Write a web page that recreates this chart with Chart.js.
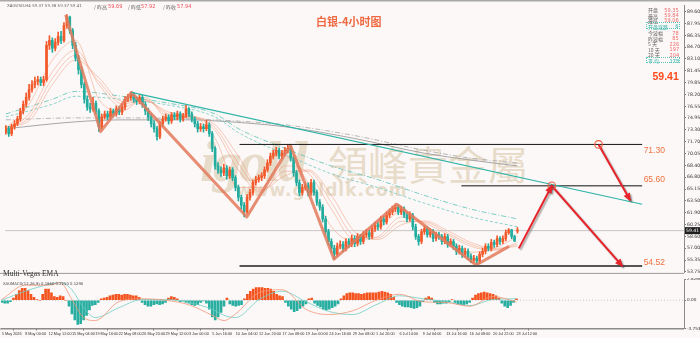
<!DOCTYPE html>
<html><head><meta charset="utf-8">
<script src="https://cdn.jsdelivr.net/npm/chart.js@4.4.1/dist/chart.umd.min.js"></script>
<style>
html,body{margin:0;padding:0;background:#fcf8f7;}
#wrap{position:relative;width:700px;height:338px;overflow:hidden;background:#fcf8f7;}
canvas{position:absolute;left:0;z-index:1;}
#c1{top:0;} #c2{top:278px;}
.t{position:absolute;white-space:nowrap;z-index:2;line-height:1;}
.s{transform:scale(0.5);transform-origin:0 0;}
.sr{transform:scale(0.5);transform-origin:100% 0;}
.wm{position:absolute;white-space:nowrap;z-index:0;line-height:1;color:rgba(214,196,164,0.55);}
</style></head><body>
<div id="wrap">
<div class="wm" style="left:200px;top:128px;font:italic bold 58px 'Liberation Serif',serif;letter-spacing:-3px;">igold</div>
<div class="wm" style="left:328px;top:134px;font:400 40px 'Noto Sans CJK TC',sans-serif;">領峰貴金屬</div>
<div class="wm" style="left:236px;top:180px;font:bold 17px 'DejaVu Sans',sans-serif;letter-spacing:1px;">www.goldlk.com</div>
<canvas id="c1" width="700" height="278"></canvas>
<canvas id="c2" width="700" height="60"></canvas>
<div id="overlay"></div>
</div>
<script>
// ---------------- data ----------------
const dateLabels = ['5 May 2026','8 May 00:00','12 May 12:00','15 May 04:00','19 May 16:00','22 May 08:00','26 May 20:00','29 May 12:00','3 Jun 00:00','5 Jun 16:00','10 Jun 04:00','12 Jun 20:00','17 Jun 08:00','19 Jun 00:00','24 Jun 16:00','29 Jun 08:00','1 Jul 20:00','6 Jul 14:00','9 Jul 04:00','13 Jul 16:00','16 Jul 08:00','20 Jul 22:00','23 Jul 12:00'];
const dateTickIdx = [0,8,16,24,32,40,48,56,64,72,80,88,96,104,112,120,128,136,144,152,160,168,176];
const priceTicks = [89.60,87.95,86.35,84.70,83.10,81.45,79.85,78.20,76.55,74.95,73.30,71.70,70.05,68.40,66.80,65.15,63.50,61.90,60.25,58.60,57.00,55.35,53.75];
const macdTicks = [2.8266,0,-3.7536];

const opens = [73.00,73.47,72.79,73.74,74.15,74.82,75.91,76.85,77.80,78.88,
79.56,79.97,80.24,79.83,80.24,84.97,85.65,84.57,85.38,86.19,
85.65,87.68,88.89,87.00,84.97,83.21,81.59,79.56,77.53,76.45,
76.18,76.99,75.91,73.74,75.09,75.50,75.09,75.91,75.50,76.18,
75.77,76.45,77.53,77.80,78.21,77.53,77.26,77.80,76.85,75.91,
75.09,74.15,73.47,72.39,74.15,74.82,75.09,74.55,75.37,75.09,
75.50,74.82,75.23,76.18,75.50,74.82,74.15,73.47,73.74,73.47,
74.01,72.79,70.76,68.33,67.79,67.38,68.06,66.98,67.79,66.71,
65.35,64.00,62.92,61.97,64.00,64.68,66.03,66.44,66.71,66.98,
67.79,68.74,69.68,70.09,70.49,69.68,70.09,70.49,70.76,69.41,
67.38,66.03,64.68,65.35,65.62,64.68,66.03,64.68,63.32,62.65,
61.02,59.26,57.91,56.96,56.15,57.24,57.51,56.96,57.91,57.51,
58.32,57.64,58.59,57.91,58.86,59.13,58.59,59.67,60.21,59.94,
61.02,60.62,61.56,61.97,62.38,62.65,61.97,62.38,61.56,61.02,
61.56,59.94,58.59,57.91,59.26,59.67,58.86,59.26,58.32,58.86,
58.59,57.91,58.59,57.51,57.91,57.24,56.56,56.96,56.15,56.56,
55.88,55.34,55.61,55.20,56.15,56.56,57.24,56.96,57.78,57.51,
58.32,57.91,58.32,59.13,59.53,58.59,59.35];
const closes = [73.47,72.79,73.74,74.15,74.82,75.91,76.85,77.80,78.88,79.56,
79.97,80.24,79.83,80.24,84.97,85.65,84.57,85.38,86.19,85.65,
87.68,88.89,87.00,84.97,83.21,81.59,79.56,77.53,76.45,76.18,
76.99,75.91,73.74,75.09,75.50,75.09,75.91,75.50,76.18,75.77,
76.45,77.53,77.80,78.21,77.53,77.26,77.80,76.85,75.91,75.09,
74.15,73.47,72.39,74.15,74.82,75.09,74.55,75.37,75.09,75.50,
74.82,75.23,76.18,75.50,74.82,74.15,73.47,73.74,73.47,74.01,
72.79,70.76,68.33,67.79,67.38,68.06,66.98,67.79,66.71,65.35,
64.00,62.92,61.97,64.00,64.68,66.03,66.44,66.71,66.98,67.79,
68.74,69.68,70.09,70.49,69.68,70.09,70.49,70.76,69.41,67.38,
66.03,64.68,65.35,65.62,64.68,66.03,64.68,63.32,62.65,61.02,
59.26,57.91,56.96,56.15,57.24,57.51,56.96,57.91,57.51,58.32,
57.64,58.59,57.91,58.86,59.13,58.59,59.67,60.21,59.94,61.02,
60.62,61.56,61.97,62.38,62.65,61.97,62.38,61.56,61.02,61.56,
59.94,58.59,57.91,59.26,59.67,58.86,59.26,58.32,58.86,58.59,
57.91,58.59,57.51,57.91,57.24,56.56,56.96,56.15,56.56,55.88,
55.34,55.61,55.20,56.15,56.56,57.24,56.96,57.78,57.51,58.32,
57.91,58.32,59.13,59.53,58.59,57.94,59.41];
const highs = [73.9,73.8,74.1,74.6,75.2,76.3,77.3,78.4,79.6,80.1,
80.6,80.7,80.6,80.7,85.5,86.3,86.0,85.9,86.8,86.9,
88.1,89.2,89.0,87.3,85.4,83.6,82.0,79.9,78.0,77.0,
77.8,77.3,76.2,75.5,75.9,75.9,76.3,76.2,76.6,76.5,
76.9,77.9,78.2,78.5,78.5,77.9,78.2,78.1,77.2,76.3,
75.5,74.6,73.8,74.5,75.2,75.5,75.4,75.7,75.7,75.9,
75.8,75.6,76.7,76.4,75.8,75.1,74.5,74.2,74.1,74.6,
74.3,73.1,71.0,68.8,68.2,68.6,68.4,68.2,68.1,67.0,
65.7,64.3,63.3,64.4,65.1,66.4,66.9,67.1,67.4,68.2,
69.2,70.1,70.5,70.9,70.8,70.5,70.9,71.2,71.1,69.7,
67.7,66.4,65.8,66.1,66.0,66.5,66.4,65.0,63.7,63.0,
61.4,59.6,58.3,57.4,57.7,58.0,57.9,58.3,58.3,58.8,
58.7,59.0,58.9,59.3,59.6,59.5,60.1,60.6,60.6,61.4,
61.4,62.0,62.4,62.8,63.1,63.0,62.8,62.7,61.9,62.0,
61.8,60.3,58.9,59.6,60.1,60.0,59.7,59.6,59.2,59.2,
58.9,59.0,58.9,58.3,58.2,57.6,57.4,57.3,57.0,56.9,
56.2,56.0,55.9,56.5,57.0,57.6,57.6,58.2,58.1,58.7,
58.6,58.7,59.5,59.69,59.6,58.8,59.84];
const lows = [72.7,72.4,72.5,73.4,73.9,74.5,75.5,76.5,77.4,78.5,
79.1,79.5,79.4,79.4,80.0,84.4,84.0,84.2,85.0,85.2,
85.4,87.3,86.6,84.5,82.8,81.0,79.1,77.0,76.0,75.7,
75.9,75.5,73.1,73.4,74.8,74.7,74.8,75.1,75.2,75.4,
75.4,76.1,77.2,77.4,77.1,76.8,76.9,76.4,75.4,74.6,
73.7,73.0,71.9,72.1,73.8,74.5,74.1,74.2,74.7,74.7,
74.4,74.5,75.0,75.1,74.4,73.7,73.0,73.1,73.0,73.2,
72.4,70.3,67.9,67.3,66.9,67.0,66.5,66.6,66.3,64.9,
63.5,62.4,61.3,61.7,63.6,64.3,65.7,66.1,66.3,66.6,
67.5,68.4,69.3,69.7,69.3,69.3,69.8,70.1,69.0,66.9,
65.6,64.2,64.3,65.0,64.2,64.3,64.3,62.9,62.2,60.6,
58.8,57.4,56.4,55.5,55.9,56.9,56.5,56.6,57.1,57.2,
57.2,57.3,57.5,57.6,58.5,58.2,58.3,59.3,59.5,59.6,
60.2,60.3,61.2,61.6,62.0,61.6,61.6,61.2,60.6,60.7,
59.5,58.2,57.4,57.6,58.9,58.5,58.5,57.9,58.0,58.2,
57.5,57.6,57.1,57.2,56.8,56.1,56.2,55.7,55.8,55.4,
55.0,55.0,54.7,54.9,55.8,56.2,56.6,56.6,57.1,57.2,
57.5,57.6,58.0,58.9,58.3,57.92,59.06];

const ribbonIdx = [0,8,16,24,32,40,48,56,64,72,80,88,96,104,112,120,128,136,144,152,160,168,176];
const emaFast = [73.47,76.85,82.94,85.65,77.53,75.91,77.80,74.82,75.09,72.12,65.35,65.35,69.68,66.03,59.94,57.91,59.67,61.97,59.94,58.32,56.42,56.96,58.59];
const emaMid  = [73.47,75.50,81.32,84.30,79.56,76.45,77.53,75.23,75.09,73.20,67.79,64.68,68.33,67.38,62.38,58.18,58.59,61.29,60.48,58.86,57.24,56.69,57.78];
const emaMid2 = [73.60,75.00,80.40,83.60,80.00,76.90,77.40,75.50,75.15,73.60,68.70,64.90,67.60,67.60,63.30,58.70,58.40,60.70,60.60,59.10,57.50,56.80,57.50];
const emaSlow = [73.74,74.55,79.56,82.94,80.51,77.26,77.26,75.77,75.23,74.01,69.68,65.08,66.98,67.79,64.27,59.26,58.18,60.21,60.75,59.40,57.78,56.96,57.24];
const vegasIdx = [0,16,24,40,56,72,80,96,112,128,144,160,176];
const ema144 = [75.50,77.53,78.61,77.94,76.99,75.50,73.47,70.76,68.33,66.44,64.27,62.38,61.02];
const ema169 = [75.09,76.85,77.94,77.53,76.72,75.09,72.93,69.95,67.25,65.35,63.19,61.29,59.94];
const longIdx = [0,24,40,64,72,96,120,144,160,176];
const ema576 = [73.47,74.42,74.69,74.69,74.55,73.74,72.12,70.09,69.14,68.33];
const ema676 = [74.69,74.96,74.96,74.82,74.69,74.01,72.52,70.49,69.41,68.74];

const macdHist = [-0.3,-0.4,-0.4,-0.2, 0.3,0.8,1.3,1.6,1.6,1.3,0.8,0.4, 0.1,0.0, 0.8,1.5,1.5,1.0, 0.5,0.4,0.6,0.5,
0.0,-0.8,-1.8,-2.6,-3.2,-3.1,-2.6,-2.0,-1.3,-0.7, -0.6,-0.3,0.2,0.3,
0.4,0.6,0.7,0.8,0.8,0.7,0.8,0.8,0.7,0.6, 0.6,0.4, -0.3,-0.6,-0.8,-0.8,-0.6, -0.5,-0.6,-0.5,-0.3,
0.3,0.5,0.4,0.2, -0.2,-0.1,-0.3,-0.4, -0.6,-0.7,-0.6,-0.3, -0.1,-0.4, -1.2,-2.2,-2.6,-2.2,-1.6, -0.8,0.3,
-0.5,-0.7,-0.8,-0.7,-0.6, 0.2,0.8,1.2,1.5,1.7,1.7,1.7,1.6,1.6,1.5,1.2, 0.8,0.6,0.5,
-0.3,-0.8,-1.2,-1.5,-1.4,-1.1,-0.8, -0.5,0.2, 0.3, -0.4,-0.7,-0.9,-1.2,-1.3,-1.2,-1.0,-0.8,-0.5,
0.2,0.6,0.9,1.0,1.0,0.9,0.9,0.8,0.9,1.0,1.0,1.0, 1.0,1.1,1.2,1.1,1.0,0.8, 0.4,
-0.3,-0.6,-0.8,-0.9,-0.9,-1.0,-1.1,-1.0,-0.8, -0.2,0.3,0.5,0.3, -0.3,-0.5,-0.5,-0.4,-0.4,-0.2, 0.1,
-0.3,-0.5,-0.6,-0.6,-0.5,-0.3, 0.3,0.7,0.9,1.0,1.1,1.0,0.9,0.8,0.6,0.3, -0.4,-0.8,-1.0,-0.7,-0.3, 0.2];
const macdIdx = [0,8,16,20,24,28,32,40,48,56,64,72,76,80,88,96,104,112,120,128,136,144,152,160,168,176];
const macdLine = [0.1,2.0,2.0,2.35,0.1,-2.3,-2.7,-0.2,0.2,0.0,-0.6,-2.0,-2.7,-1.8,1.0,1.4,-1.2,-1.9,-1.4,0.0,0.8,-0.2,-0.3,-0.8,0.5,-0.2];
const signalLine = [0.0,1.2,2.1,2.35,1.4,-1.0,-2.3,-1.0,0.1,0.1,-0.3,-1.2,-2.0,-2.3,0.1,1.2,-0.2,-1.5,-1.9,-0.6,0.6,0.2,-0.2,-0.7,0.1,0.2];

// analyst drawings (price / bar-index units)
const levelValues = [71.30, 65.60, 54.52];
const levelTexts = ['71.30','65.60','54.52'];
const levelStartIdx = [80.4, 156.7, 80.4];
const levelEndIdx = 218.9;
const zigzagIdx = [20.6, 32.6, 43.2, 82.9, 97.9, 112.9, 134.5, 161.8, 173.1];
const zigzagPrice = [89.17, 73.06, 78.48, 61.29, 71.17, 55.48, 63.05, 54.66, 57.24];
const trendIdx = [43.2, 218.9];
const trendPrice = [78.48, 63.05];
const arrow1Idx = [176.5, 187.8, 212.1];
const arrow1Price = [56.96, 65.60, 54.52];
const arrow2Idx = [203.9, 214.8];
const arrow2Price = [71.30, 63.59];

const infoLabels = ['开盘','最高','最低','开盘涨跌','今波幅','昨波幅','5 天','10 天','20 天','平 均'];
const infoValues = ['59.35','59.84','59.06','6','78','85','226','197','204','178'];
const lastPrice = closes[closes.length-1];

// ---------------- helpers ----------------
const X_MIN = -0.25, X_MAX = 233.3;
const UP = '#f2592b', DOWN = '#22ad9f';
const pts = (xs, ys) => xs.map((x,k)=>({x, y:ys[k]}));
function line(xs, ys, color, width, dash, order, extra){
  return Object.assign({type:'line', data:pts(xs,ys), borderColor:color, borderWidth:width, borderDash:dash||[],
    pointRadius:0, fill:false, order:order, cubicInterpolationMode:'monotone'}, extra||{});
}
const idx = closes.map((_,i)=>i);
const candleColors = idx.map(i => closes[i] >= opens[i] ? UP : DOWN);

const fxPlugin = {
  id:'fx',
  beforeDatasetDraw(chart, args){
    const ds = chart.data.datasets[args.index];
    if (ds.shadow){ const c=chart.ctx; c.save(); c.shadowColor='rgba(60,60,60,0.45)'; c.shadowOffsetX=1.5; c.shadowOffsetY=1.5; c.shadowBlur=1.5; }
  },
  afterDatasetDraw(chart, args){
    const ds = chart.data.datasets[args.index];
    if (ds.shadow) chart.ctx.restore();
  },
  afterDatasetsDraw(chart){
    const c = chart.ctx;
    chart.data.datasets.forEach((ds,di)=>{
      if(!ds.arrowAt) return;
      const meta = chart.getDatasetMeta(di);
      ds.arrowAt.forEach(j=>{
        const p = meta.data[j], q = meta.data[j-1];
        const a = Math.atan2(p.y-q.y, p.x-q.x);
        c.save(); c.translate(p.x,p.y); c.rotate(a);
        c.shadowColor='rgba(60,60,60,0.45)'; c.shadowOffsetX=1.5; c.shadowOffsetY=1.5; c.shadowBlur=1.5;
        c.beginPath(); c.moveTo(1,0); c.lineTo(-7,-3.6); c.lineTo(-7,3.6); c.closePath();
        c.fillStyle = ds.borderColor; c.fill(); c.restore();
      });
    });
  }
};

const mainDecor = {
  id:'mainDecor',
  afterDraw(chart){
    const c = chart.ctx, xs = chart.scales.x, ys = chart.scales.y, ca = chart.chartArea;
    c.save();
    c.fillStyle = '#a9a9a9'; c.fillRect(0,0,700,1.5);
    c.strokeStyle = '#9a9a9a'; c.lineWidth = 1;
    c.beginPath(); c.moveTo(0, ca.bottom+0.5); c.lineTo(ca.right, ca.bottom+0.5); c.stroke();
    c.font = '8.5px "Liberation Sans", Arial, sans-serif';
    c.fillStyle = '#f2703e'; c.textAlign='left'; c.textBaseline='middle';
    const dy = [5.8, -6.2, -3.6];
    levelValues.forEach((v,k)=>{
      c.fillText(levelTexts[k], xs.getPixelForValue(levelEndIdx)+1.5, ys.getPixelForValue(v)+dy[k]);
    });
    const py = ys.getPixelForValue(lastPrice);
    c.fillStyle = '#1e1e1e'; c.fillRect(ca.right+1, py-3.5, 15, 7);
    c.fillStyle = '#ffffff'; c.font = '4.6px "DejaVu Sans", sans-serif';
    c.fillText(lastPrice.toFixed(2), ca.right+2, py+0.3);
    c.restore();
  }
};

// ---------------- main chart ----------------
const ribbonColor = 'rgba(240,150,120,0.7)';
new Chart(document.getElementById('c1'), {
  type:'bar',
  data:{ datasets:[
    line(longIdx, ema576, '#9c9c9c', 0.9, [], 20),
    line(longIdx, ema676, '#a6a6a6', 0.8, [5,2,1,2], 20),
    line(vegasIdx, ema144, '#58c2b6', 0.8, [5,2,1,2], 19),
    line(vegasIdx, ema169, '#6dcac0', 0.8, [3,2], 19),
    line(ribbonIdx, emaSlow, ribbonColor, 0.7, [], 18),
    line(ribbonIdx, emaMid2, ribbonColor, 0.7, [], 18),
    line(ribbonIdx, emaMid, ribbonColor, 0.7, [], 18),
    line(ribbonIdx, emaFast, ribbonColor, 0.7, [], 18),
    line([X_MIN, X_MAX], [lastPrice, lastPrice], '#c4c0c0', 0.9, [], 17, {cubicInterpolationMode:'default'}),
    {type:'bar', data: idx.map(i=>({x:i, y:[lows[i], highs[i]]})), backgroundColor:candleColors, barThickness:1, grouped:false, order:12},
    {type:'bar', data: idx.map(i=>({x:i, y:[opens[i], closes[i]]})), backgroundColor:candleColors, barThickness:2, minBarLength:1, grouped:false, order:11},
    line(zigzagIdx, zigzagPrice, 'rgba(226,122,92,0.85)', 3, [], 6, {cubicInterpolationMode:'default', tension:0, borderJoinStyle:'round'}),
    line(trendIdx, trendPrice, '#2fb5a8', 1.2, [], 5, {cubicInterpolationMode:'default'}),
    line([levelStartIdx[0], levelEndIdx], [levelValues[0], levelValues[0]], '#151515', 1, [], 5, {cubicInterpolationMode:'default'}),
    line([levelStartIdx[1], levelEndIdx], [levelValues[1], levelValues[1]], '#5e5e5e', 1.4, [], 5, {cubicInterpolationMode:'default'}),
    line([levelStartIdx[2], levelEndIdx], [levelValues[2], levelValues[2]], '#555555', 2, [], 5, {cubicInterpolationMode:'default'}),
    line(arrow1Idx, arrow1Price, '#e8232a', 2, [], 2, {cubicInterpolationMode:'default', tension:0, shadow:true, arrowAt:[1,2]}),
    line(arrow2Idx, arrow2Price, '#e8232a', 2, [], 2, {cubicInterpolationMode:'default', tension:0, shadow:true, arrowAt:[1]}),
    {type:'line', data:[{x:arrow1Idx[1], y:arrow1Price[1]},{x:arrow2Idx[0], y:arrow2Price[0]}], showLine:false,
      pointRadius:3.8, pointBorderColor:'#ef5a3a', pointBackgroundColor:'rgba(255,255,255,0)', pointBorderWidth:1.1, order:1}
  ]},
  options:{
    responsive:false, animation:false, events:[],
    layout:{padding:{left:1, top:4, right:0, bottom:1}},
    plugins:{legend:{display:false}, tooltip:{enabled:false}},
    scales:{
      x:{type:'linear', min:X_MIN, max:X_MAX, display:false, offset:false},
      y:{type:'linear', position:'right', min:53.58, max:90.52,
        afterFit(s){ s.width = 16; s.paddingTop = 0; s.paddingBottom = 0; },
        afterBuildTicks(s){ s.ticks = priceTicks.map(v=>({value:v})); },
        ticks:{ autoSkip:false, font:{size:4.6, family:'"DejaVu Sans", sans-serif'}, color:'#333', padding:1, callback:v=>v.toFixed(2)},
        grid:{drawOnChartArea:false, drawTicks:true, tickLength:2, color:'#777'},
        border:{display:true, color:'#8a8a8a', width:1}}
    }
  },
  plugins:[fxPlugin, mainDecor]
});

// ---------------- MACD chart ----------------
const macdDecor = {
  id:'macdDecor',
  afterDraw(chart){
    const c = chart.ctx, ca = chart.chartArea;
    c.save(); c.strokeStyle = '#8c8c8c'; c.lineWidth = 1;
    c.beginPath(); c.moveTo(0, ca.bottom+0.5); c.lineTo(ca.right, ca.bottom+0.5); c.stroke();
    c.restore();
  }
};
new Chart(document.getElementById('c2'), {
  type:'bar',
  data:{ datasets:[
    line([X_MIN, X_MAX], [0,0], '#b9b9b9', 0.8, [1,2], 9, {cubicInterpolationMode:'default'}),
    {type:'bar', data: idx.map(i=>({x:i, y:macdHist[i]})), backgroundColor: macdHist.map(v=> v>=0 ? '#f4541f' : '#27aea0'), barThickness:2, grouped:false, order:8},
    line(macdIdx, macdLine, '#f39577', 0.8, [], 3),
    line(macdIdx, signalLine, '#6fcdc4', 0.8, [], 3)
  ]},
  options:{
    responsive:false, animation:false, events:[],
    layout:{padding:{left:1, top:1, right:0, bottom:0}},
    plugins:{legend:{display:false}, tooltip:{enabled:false}},
    scales:{
      x:{type:'linear', min:X_MIN, max:X_MAX, offset:false,
        afterFit(s){ s.height = 9.5; s.paddingLeft = 0; s.paddingRight = 0; },
        afterBuildTicks(s){ s.ticks = dateTickIdx.map(v=>({value:v})); },
        ticks:{ autoSkip:false, maxRotation:0, minRotation:0, align:'start', padding:1.5, font:{size:3.8, family:'"Liberation Sans", sans-serif'}, color:'#333',
          callback:(v)=>{ const k = dateTickIdx.indexOf(v); return k>=0 ? dateLabels[k] : ''; }},
        grid:{drawOnChartArea:false, drawTicks:true, tickLength:2, color:'#777'},
        border:{display:true, color:'#8a8a8a'}},
      y:{type:'linear', position:'right', min:-3.7536, max:2.8266,
        afterFit(s){ s.width = 16; s.paddingTop = 0; s.paddingBottom = 0; },
        afterBuildTicks(s){ s.ticks = macdTicks.map(v=>({value:v})); },
        ticks:{ autoSkip:false, font:{size:4.2, family:'"DejaVu Sans", sans-serif'}, color:'#333', padding:1,
          callback:v=> v===0 ? '0.00' : v.toFixed(4)},
        grid:{drawOnChartArea:false, drawTicks:true, tickLength:2, color:'#777'},
        border:{display:true, color:'#8a8a8a'}}
    }
  },
  plugins:[macdDecor]
});

// ---------------- text overlay (fonts at 2x, scaled by 0.5) ----------------
const ov = document.getElementById('overlay');
function txt(s, left, top, font, color, right){
  const d = document.createElement('div');
  d.className = 't ' + (right ? 'sr' : 's');
  d.textContent = s;
  if (right) d.style.right = (700-left)+'px'; else d.style.left = left+'px';
  d.style.top = top+'px'; d.style.font = font; d.style.color = color;
  ov.appendChild(d); return d;
}
const CJK = '"Noto Sans CJK SC", sans-serif', LAT = '"DejaVu Sans", sans-serif';
txt('XAGUSD,H4  59.37 59.38 59.37 59.41', 7, 2.8, '8px '+LAT, '#666');
txt('/ 昨高', 94, 2.5, '10px '+CJK, '#666');
txt('59.69', 107.5, 3, '10px '+LAT, '#f2505a');
txt('/ 昨低', 128, 2.5, '10px '+CJK, '#666');
txt('57.92', 140.5, 3, '10px '+LAT, '#f2505a');
txt('/ 昨收', 163, 2.5, '10px '+CJK, '#666');
txt('57.94', 176.5, 3, '10px '+LAT, '#f2505a');
const rowTop = [6.3, 11.6, 17.0, 23.0, 29.3, 34.6, 40.3, 45.6, 51.3, 57.3];
infoLabels.forEach((l,k)=>{
  const teal = (k===3 || k===9);
  txt(l, 647.5, rowTop[k], '10px '+CJK, teal ? '#2fb3a6' : '#666');
  txt(infoValues[k], 678.8, rowTop[k]+0.3, '10px '+LAT, teal ? '#2fb3a6' : '#f06a6a', true);
  if (teal){
    const b = document.createElement('div'); b.className='t';
    b.style.cssText = 'left:646px;top:'+(rowTop[k]-0.8)+'px;width:34px;height:6.5px;border:0.6px dotted #5cc3b8;box-sizing:border-box;';
    ov.appendChild(b);
  }
});
const title = document.createElement('div'); title.className='t'; title.textContent='白银-4小时图';
title.style.cssText += 'left:316px;top:12.5px;font:bold 11px "Noto Sans CJK SC";color:#ef6942;'; ov.appendChild(title);
const big = document.createElement('div'); big.className='t'; big.textContent='59.41';
big.style.cssText += 'left:652.5px;top:69.5px;font:bold 10.5px "Liberation Sans",Arial;color:#ff4a1c;'; ov.appendChild(big);
const mv = document.createElement('div'); mv.className='t'; mv.textContent='Multi-Vegas EMA';
mv.style.cssText += 'left:3px;top:268.5px;font:7.5px "Liberation Serif",serif;color:#333;'; ov.appendChild(mv);
txt('XAUMACD(12,26,9) 0.1960 0.2250 0.1290', 3, 280.8, '7.6px '+LAT, '#444');
</script>
</body></html>
